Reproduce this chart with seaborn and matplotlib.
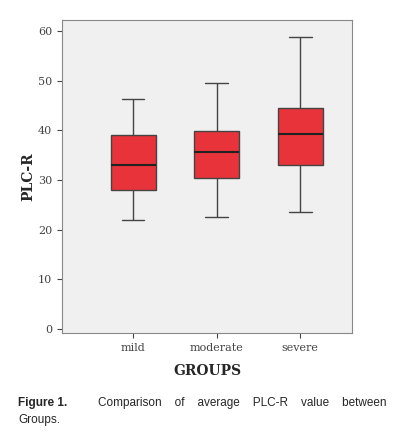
import pandas as pd
import matplotlib
matplotlib.use("Agg")
import matplotlib.pyplot as plt
import seaborn as sns

groups = ["mild", "moderate", "severe"]
whisker_low = [21.9, 22.6, 23.5]
q1 = [28.0, 30.3, 33.1]
median = [32.9, 35.7, 39.2]
q3 = [39.1, 39.9, 44.4]
whisker_high = [46.3, 49.6, 58.8]

rows = []
for i, g in enumerate(groups):
    for v in [whisker_low[i], q1[i], median[i], q3[i], whisker_high[i]]:
        rows.append({"GROUPS": g, "PLC-R": v})
df = pd.DataFrame(rows)

sns.set_style("ticks")
fig = plt.figure(figsize=(4.08, 4.34), dpi=100)
ax = fig.add_axes([0.152, 0.233, 0.711, 0.721])
ax.set_facecolor("#f0f0f0")

sns.boxplot(x="GROUPS", y="PLC-R", data=df, ax=ax, whis=(0, 100), width=0.54,
            color="#e8333a", saturation=1, linewidth=1,
            boxprops=dict(edgecolor="#444444"),
            whiskerprops=dict(color="#444444"),
            capprops=dict(color="#444444"),
            medianprops=dict(color="#222222", linewidth=1.5))
for p in ax.patches:
    p.set_facecolor("#e8333a")

ax.set_ylim(-0.8, 62.2)
ax.set_xlim(-0.85, 2.62)
ax.set_yticks([0, 10, 20, 30, 40, 50, 60])
for s in ax.spines.values():
    s.set_color("#888888")
ax.tick_params(colors="#444444", labelsize=8)
for lab in ax.get_xticklabels() + ax.get_yticklabels():
    lab.set_family("DejaVu Serif")
ax.set_xlabel("GROUPS", fontsize=10, fontweight="bold", family="DejaVu Serif", labelpad=8)
ax.set_ylabel("PLC-R", fontsize=10, fontweight="bold", family="DejaVu Serif", labelpad=2)

fig.text(18 / 408, 1 - 403 / 434, "Figure 1.", fontsize=8.5, fontweight="bold",
         family="Liberation Sans", va="center")
fig.text(386 / 408, 1 - 403 / 434, "Comparison    of    average    PLC-R    value    between",
         fontsize=8.5, family="Liberation Sans", va="center", ha="right")
fig.text(18 / 408, 1 - 420 / 434, "Groups.", fontsize=8.5, family="Liberation Sans", va="center")

fig.savefig("out.png", dpi=100)
